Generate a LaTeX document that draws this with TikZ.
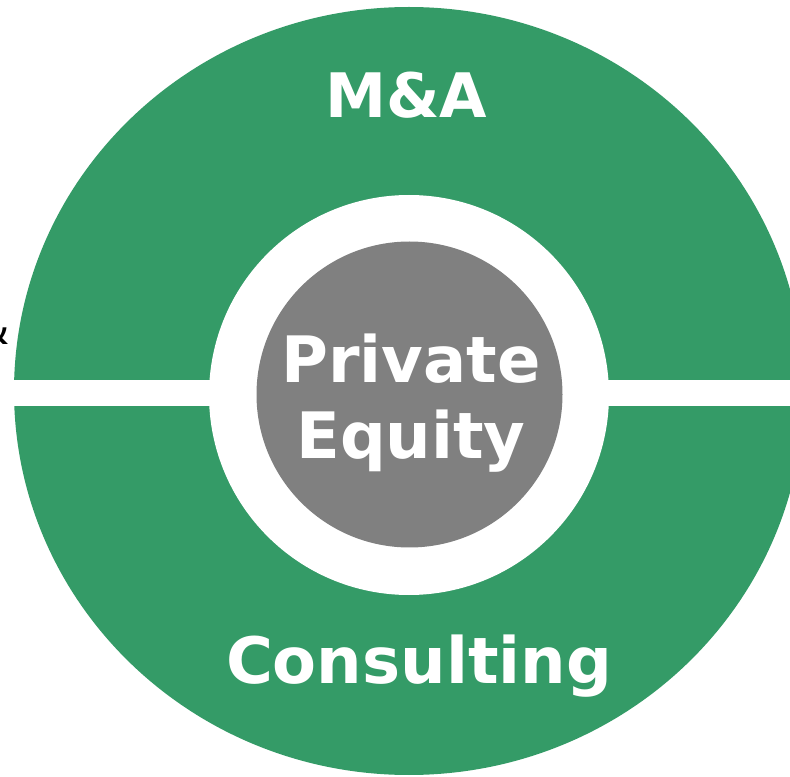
\documentclass[tikz,border=0pt]{standalone}
\usepackage{fontspec}
\setmainfont{DejaVu Sans}
\definecolor{ringgreen}{RGB}{52,155,103}
\definecolor{coregray}{RGB}{128,128,128}

\begin{document}
\begin{tikzpicture}[x=0.75pt,y=0.75pt,yscale=-1,xscale=1]
\useasboundingbox (0,0) rectangle (790,777);

%Shape: Ellipse [outer ring]
\fill [ringgreen] (409,391) ellipse [x radius=395, y radius=384];
%Shape: Rectangle [band]
\fill [white] (0,380) rectangle (790,406);
%Shape: Circle [inner gap]
\fill [white] (409,395) circle [radius=200];
%Shape: Circle [core]
\fill [coregray] (409.5,394.5) circle [radius=153];

% Text Node
\node (cut) [anchor=base east, inner sep=0pt, font=\fontsize{32}{32}\selectfont] at (10,345) {\&};
% Text Node
\node (ma) [anchor=base, inner sep=0pt, text=white, font=\bfseries\fontsize{46}{46}\selectfont] at (406,118) {M\&A};
% Text Node
\node (private) [anchor=base, inner sep=0pt, text=white, font=\bfseries\fontsize{48}{48}\selectfont] at (411,383) {Private};
% Text Node
\node (equity) [anchor=base, inner sep=0pt, text=white, font=\bfseries\fontsize{48}{48}\selectfont] at (411,459) {Equity};
% Text Node
\node (consulting) [anchor=base, inner sep=0pt, text=white, font=\bfseries\fontsize{48}{48}\selectfont] at (419,683) {Consulting};

\end{tikzpicture}
\end{document}
